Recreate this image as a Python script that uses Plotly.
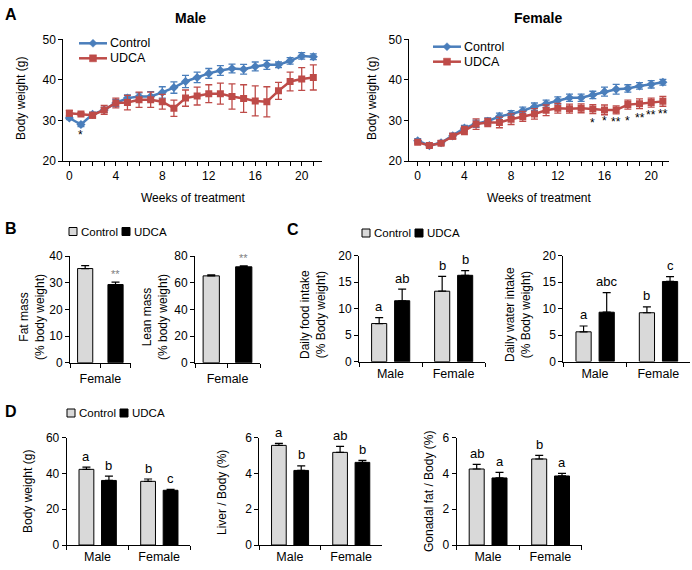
import plotly.graph_objects as go

W, H = 692, 570
FONT = "Liberation Sans, Arial, sans-serif"

# ---------------- data ----------------
weeks = list(range(22))
week_labels = [str(w) if w % 4 == 0 else "" for w in weeks]

male_ctrl = [30.6, 29.0, 31.5, 32.6, 34.3, 35.5, 35.9, 35.9, 36.9, 38.1, 39.6, 40.6, 41.6, 42.3, 42.8, 42.6, 43.3, 43.7, 43.7, 44.7, 45.9, 45.7]
male_ctrl_err = [0.4, 0.5, 0.5, 0.6, 0.9, 0.8, 0.9, 1.2, 1.4, 1.4, 1.5, 1.3, 1.2, 1.2, 1.1, 1.2, 1.1, 1.1, 0.7, 0.8, 0.8, 0.7]
male_udca = [31.8, 31.6, 31.3, 32.6, 34.3, 34.4, 35.1, 35.1, 34.6, 33.0, 35.5, 36.0, 36.6, 36.6, 35.9, 35.4, 34.8, 34.6, 37.3, 39.6, 40.2, 40.6]
male_udca_err = [0.7, 0.3, 0.7, 1.1, 1.2, 1.8, 1.9, 1.9, 1.8, 2.0, 2.0, 2.2, 2.2, 2.6, 3.1, 3.4, 3.7, 3.7, 2.1, 2.3, 2.8, 3.1]

female_ctrl = [25.0, 23.8, 24.5, 26.2, 28.1, 29.2, 29.8, 31.0, 31.6, 32.4, 33.4, 34.1, 34.9, 35.6, 35.6, 36.3, 37.1, 37.7, 37.9, 38.5, 38.9, 39.4]
female_ctrl_err = [0.5, 0.4, 0.5, 0.6, 0.7, 0.9, 0.8, 0.8, 0.8, 0.9, 0.9, 0.9, 0.9, 0.9, 0.9, 0.9, 1.1, 1.2, 0.9, 0.8, 0.9, 0.7]
female_udca = [24.6, 23.8, 24.4, 26.1, 27.5, 29.1, 29.5, 29.5, 30.3, 31.0, 31.6, 32.5, 33.0, 32.9, 33.0, 32.8, 32.6, 32.6, 33.9, 34.1, 34.4, 34.7]
female_udca_err = [0.4, 0.4, 0.5, 0.7, 1.0, 1.3, 1.0, 1.3, 1.3, 1.2, 1.3, 1.3, 1.2, 1.1, 1.1, 1.1, 1.2, 1.0, 1.1, 1.2, 1.1, 1.2]

male_sig_weeks = [1]
male_sig_text = ["*"]
male_sig_y = [26.4]
female_sig_weeks = [15, 16, 17, 18, 19, 20, 21]
female_sig_text = ["*", "*", "**", "*", "**", "**", "**"]
female_sig_y = [29.3, 29.9, 29.7, 29.9, 30.5, 31.3, 31.7]

groups = ["Control", "UDCA"]
sexes = ["Male", "Female"]

fat_mass = [35.3, 29.3]
fat_mass_err = [1.1, 0.9]
lean_mass = [65.1, 71.9]
lean_mass_err = [0.8, 0.8]
b_sig = ["", "**"]

food_ctrl = [7.2, 13.3]
food_ctrl_err = [1.1, 2.8]
food_udca = [11.5, 16.3]
food_udca_err = [2.2, 0.9]
food_letters_ctrl = ["a", "b"]
food_letters_udca = ["ab", "b"]

water_ctrl = [5.6, 9.2]
water_ctrl_err = [1.1, 1.1]
water_udca = [9.3, 15.1]
water_udca_err = [3.7, 0.9]
water_letters_ctrl = ["a", "b"]
water_letters_udca = ["abc", "c"]

bw_ctrl = [42.3, 35.6]
bw_ctrl_err = [1.3, 1.3]
bw_udca = [36.1, 30.6]
bw_udca_err = [2.4, 0.5]
bw_letters_ctrl = ["a", "b"]
bw_letters_udca = ["b", "c"]

liver_ctrl = [5.57, 5.18]
liver_ctrl_err = [0.11, 0.33]
liver_udca = [4.17, 4.62]
liver_udca_err = [0.25, 0.11]
liver_letters_ctrl = ["a", "ab"]
liver_letters_udca = ["b", "b"]

gon_ctrl = [4.25, 4.81]
gon_ctrl_err = [0.26, 0.20]
gon_udca = [3.75, 3.86]
gon_udca_err = [0.31, 0.15]
gon_letters_ctrl = ["ab", "b"]
gon_letters_udca = ["a", "a"]

# ---------------- styles ----------------
BLUE = "#4A7EBB"
RED = "#BE4B48"
GREY = "#D9D9D9"


def px(x):
    return x / W


def py(y):
    return 1 - y / H


fig = go.Figure()
annotations = []
shapes = []


def note(text, x, y, size=12, color="black", angle=0, xanchor="center", xref="paper", yref="paper", **kw):
    if xref == "paper":
        x = px(x)
    if yref == "paper":
        y = py(y)
    annotations.append(dict(text=text, x=x, y=y, xref=xref, yref=yref, showarrow=False,
                            xanchor=xanchor, yanchor="middle", textangle=angle,
                            font=dict(family=FONT, size=size, color=color), **kw))


def axis_common(**kw):
    d = dict(showline=True, linecolor="black", linewidth=1, ticks="outside",
             ticklen=4, tickcolor="black", tickwidth=1, showgrid=False,
             zeroline=False, tickfont=dict(family=FONT, size=12, color="black"),
             fixedrange=True)
    d.update(kw)
    return d


layout_axes = {}


def line_legend(x0, yc, color, symbol, label):
    shapes.append(dict(type="line", xref="paper", yref="paper", x0=px(x0), x1=px(x0 + 28),
                       y0=py(yc), y1=py(yc), line=dict(color=color, width=2.5)))
    cx = x0 + 14
    if symbol == "diamond":
        r = 4
        path = (f"M {px(cx)},{py(yc - r)} L {px(cx + r)},{py(yc)} "
                f"L {px(cx)},{py(yc + r)} L {px(cx - r)},{py(yc)} Z")
    else:
        r = 3.5
        path = (f"M {px(cx - r)},{py(yc - r)} L {px(cx + r)},{py(yc - r)} "
                f"L {px(cx + r)},{py(yc + r)} L {px(cx - r)},{py(yc + r)} Z")
    shapes.append(dict(type="path", xref="paper", yref="paper", path=path,
                       fillcolor=color, line=dict(color=color, width=0.5)))
    note(label, x0 + 29, yc, size=12.5, xanchor="left")


# ---------------- Panel A ----------------
line_panels = [
    (1, (63.3, 321.7), [-0.52, 21.72], male_ctrl, male_ctrl_err, male_udca, male_udca_err,
     "Male", 190, 21, (79, 43.3), male_sig_weeks, male_sig_text, male_sig_y),
    (2, (409.3, 668.7), [-0.72, 21.5], female_ctrl, female_ctrl_err, female_udca, female_udca_err,
     "Female", 537.7, 372, (433, 46.7), female_sig_weeks, female_sig_text, female_sig_y),
]
for idx, (x0, x1), xr, c, ce, u, ue, title, tx, ytx, (lx, ly), sw, st, sy in line_panels:
    xa = "x" if idx == 1 else f"x{idx}"
    ya = "y" if idx == 1 else f"y{idx}"
    fig.add_trace(go.Scatter(
        x=weeks, y=c, mode="lines+markers", name="Control", showlegend=False,
        line=dict(color=BLUE, width=2.5),
        marker=dict(symbol="diamond", size=7, color=BLUE),
        error_y=dict(type="data", array=ce, color=BLUE, thickness=1.3, width=3.5),
        xaxis=xa, yaxis=ya))
    fig.add_trace(go.Scatter(
        x=weeks, y=u, mode="lines+markers", name="UDCA", showlegend=False,
        line=dict(color=RED, width=2.5),
        marker=dict(symbol="square", size=7, color=RED),
        error_y=dict(type="data", array=ue, color=RED, thickness=1.3, width=3.5),
        xaxis=xa, yaxis=ya))
    kx = "xaxis" if idx == 1 else f"xaxis{idx}"
    ky = "yaxis" if idx == 1 else f"yaxis{idx}"
    layout_axes[kx] = axis_common(domain=[px(x0), px(x1)], range=xr, anchor=ya,
                                  tickmode="array", tickvals=weeks, ticktext=week_labels)
    layout_axes[ky] = axis_common(domain=[py(161), py(39.3)], range=[20, 50], anchor=xa,
                                  tickmode="array", tickvals=[20, 30, 40, 50])
    note("Weeks of treatment", (x0 + x1) / 2, 198)
    note("<b>" + title + "</b>", tx, 18, size=14)
    note("Body weight (g)", ytx, 99, angle=-90)
    line_legend(lx, ly, BLUE, "diamond", "Control")
    line_legend(lx, ly + 15, RED, "square", "UDCA")
    for w, t, yv in zip(sw, st, sy):
        note(t, w, yv, xref=xa, yref=ya)

note("<b>A</b>", 11, 15, size=16)

# ---------------- bar helpers ----------------
BAR_W = 0.24
OFF_C = -0.30
OFF_U = 0.065


def bar_legend(xs, yc):
    s = 8
    shapes.append(dict(type="rect", xref="paper", yref="paper",
                       x0=px(xs), x1=px(xs + s), y0=py(yc + s / 2), y1=py(yc - s / 2),
                       fillcolor=GREY, line=dict(color="black", width=1)))
    note("Control", xs + s + 2, yc, size=11.5, xanchor="left")
    xu = xs + 53
    shapes.append(dict(type="rect", xref="paper", yref="paper",
                       x0=px(xu), x1=px(xu + s), y0=py(yc + s / 2), y1=py(yc - s / 2),
                       fillcolor="black", line=dict(color="black", width=1)))
    note("UDCA", xu + s + 2, yc, size=11.5, xanchor="left")


def grouped_panel(idx, xdom, ydom, yrange, dtick, c, ce, u, ue, lc, lu):
    xa, ya = f"x{idx}", f"y{idx}"
    fig.add_trace(go.Bar(x=sexes, y=c, width=BAR_W, offset=OFF_C,
                         marker=dict(color=GREY, line=dict(color="black", width=1)),
                         error_y=dict(type="data", array=ce, arrayminus=[0] * len(ce), symmetric=False,
                                      color="black", thickness=1.2, width=4),
                         showlegend=False, xaxis=xa, yaxis=ya))
    fig.add_trace(go.Bar(x=sexes, y=u, width=BAR_W, offset=OFF_U,
                         marker=dict(color="black", line=dict(color="black", width=1)),
                         error_y=dict(type="data", array=ue, arrayminus=[0] * len(ue), symmetric=False,
                                      color="black", thickness=1.2, width=4),
                         showlegend=False, xaxis=xa, yaxis=ya))
    layout_axes[f"xaxis{idx}"] = axis_common(domain=[px(xdom[0]), px(xdom[1])], range=[-0.5, 1.5],
                                             type="category", tickson="boundaries", anchor=ya,
                                             tickfont=dict(family=FONT, size=12.5, color="black"))
    layout_axes[f"yaxis{idx}"] = axis_common(domain=[py(ydom[1]), py(ydom[0])], range=yrange,
                                             dtick=dtick, anchor=xa)
    for i in range(len(sexes)):
        note(lc[i], i + OFF_C + BAR_W / 2, c[i] + ce[i], size=13, xref=xa, yref=ya, yshift=11)
        note(lu[i], i + OFF_U + BAR_W / 2, u[i] + ue[i], size=13, xref=xa, yref=ya, yshift=11)


# ---------------- Panel B ----------------
note("<b>B</b>", 11, 228, size=16)
bar_legend(69, 231.5)

b_panels = [(3, (70, 130.7), fat_mass, fat_mass_err, [0, 40], 10, "Fat mass<br>(% body weight)", 32),
            (4, (195, 260), lean_mass, lean_mass_err, [0, 80], 20, "Lean mass<br>(% body weight)", 155)]
for idx, (x0, x1), vals, errs, yr, dt, yt, ytx in b_panels:
    xa, ya = f"x{idx}", f"y{idx}"
    xs = list(range(len(groups)))
    fig.add_trace(go.Bar(x=xs[:1], y=vals[:1], width=0.5,
                         marker=dict(color=GREY, line=dict(color="black", width=1)),
                         error_y=dict(type="data", array=errs[:1], arrayminus=[0], symmetric=False,
                                      color="black", thickness=1.2, width=4),
                         showlegend=False, xaxis=xa, yaxis=ya))
    fig.add_trace(go.Bar(x=xs[1:], y=vals[1:], width=0.5,
                         marker=dict(color="black", line=dict(color="black", width=1)),
                         error_y=dict(type="data", array=errs[1:], arrayminus=[0], symmetric=False,
                                      color="black", thickness=1.2, width=4),
                         showlegend=False, xaxis=xa, yaxis=ya))
    layout_axes[f"xaxis{idx}"] = axis_common(domain=[px(x0), px(x1)], range=[-0.5, 1.5], anchor=ya,
                                             tickmode="array", tickvals=[-0.5, 0.5, 1.5],
                                             ticktext=["", "Female", ""],
                                             tickfont=dict(family=FONT, size=12.5, color="black"))
    layout_axes[f"yaxis{idx}"] = axis_common(domain=[py(362.7), py(256)], range=yr, dtick=dt, anchor=xa)
    note(yt, ytx, 317, angle=-90)
    for i, t in enumerate(b_sig):
        if t:
            note(t, xs[i], vals[i] + errs[i], size=11, color="#808080", xref=xa, yref=ya, yshift=8)

# ---------------- Panel C ----------------
note("<b>C</b>", 293, 230, size=16)
bar_legend(362, 233)
grouped_panel(5, (359, 485), (255.7, 361.7), [0, 20], 5, food_ctrl, food_ctrl_err, food_udca, food_udca_err,
              food_letters_ctrl, food_letters_udca)
note("Daily food intake<br>(% Body weight)", 313, 315, angle=-90)
grouped_panel(6, (563.3, 690), (255.5, 361.5), [0, 20], 5, water_ctrl, water_ctrl_err, water_udca, water_udca_err,
              water_letters_ctrl, water_letters_udca)
note("Daily water intake<br>(% Body weight)", 518, 315, angle=-90)

# ---------------- Panel D ----------------
note("<b>D</b>", 11, 411, size=16)
bar_legend(67, 413)
grouped_panel(7, (66.7, 190), (437.7, 545), [0, 60], 20, bw_ctrl, bw_ctrl_err, bw_udca, bw_udca_err,
              bw_letters_ctrl, bw_letters_udca)
note("Body weight (g)", 28, 492, angle=-90)
grouped_panel(8, (259.3, 381.7), (437.7, 545), [0, 6], 2, liver_ctrl, liver_ctrl_err, liver_udca, liver_udca_err,
              liver_letters_ctrl, liver_letters_udca)
note("Liver / Body (%)", 222, 492, angle=-90)
grouped_panel(9, (456.7, 581.7), (437.7, 545), [0, 6], 2, gon_ctrl, gon_ctrl_err, gon_udca, gon_udca_err,
              gon_letters_ctrl, gon_letters_udca)
note("Gonadal fat / Body (%)", 429, 492, angle=-90)

fig.update_layout(
    width=W, height=H, margin=dict(l=0, r=0, t=0, b=0, autoexpand=False),
    paper_bgcolor="white", plot_bgcolor="rgba(0,0,0,0)",
    font=dict(family=FONT, size=12, color="black"),
    showlegend=False,
    annotations=annotations, shapes=shapes,
    barmode="overlay",
    **layout_axes,
)

fig.write_html("out.html",
               config={"displayModeBar": False, "staticPlot": True},
               post_script="document.body.style.margin='0px';document.body.style.padding='0px';document.body.style.overflow='hidden';")
